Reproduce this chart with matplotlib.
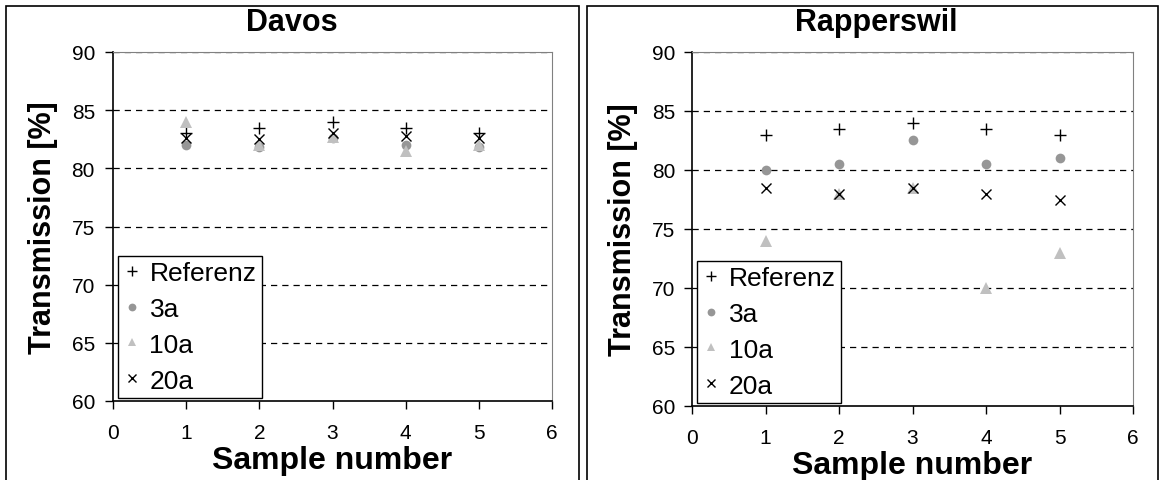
import matplotlib.pyplot as plt
from matplotlib.patches import Rectangle

plt.rcParams['font.family'] = ['Liberation Sans', 'DejaVu Sans']

samples = [1, 2, 3, 4, 5]
series = ['Referenz', '3a', '10a', '20a']

davos_ref = [83, 83.5, 84, 83.5, 83]
davos_3a = [82, 81.8, 82.6, 82, 81.8]
davos_10a = [84, 82, 82.7, 81.5, 82]
davos_20a = [82.6, 82.5, 83, 82.8, 82.6]

rap_ref = [83, 83.5, 84, 83.5, 83]
rap_3a = [80, 80.5, 82.5, 80.5, 81]
rap_10a = [74, 78, 78.5, 70, 73]
rap_20a = [78.5, 78, 78.5, 78, 77.5]

styles = [
    dict(marker='+', color='black', ms=9, mew=1.0),
    dict(marker='o', color='#969696', ms=7, mew=0),
    dict(marker='^', color='#c0c0c0', ms=8, mew=0),
    dict(marker='x', color='black', ms=7, mew=1.0),
]

W, H = 1160, 481
fig = plt.figure(figsize=(W / 100, H / 100), dpi=100)

# panel frames (Excel chart areas)
fig.patches.append(Rectangle((6 / W, -0.05), (579 - 6) / W, 1.05 - 7 / H,
                             transform=fig.transFigure, fill=False,
                             edgecolor='black', lw=1.2))
fig.patches.append(Rectangle((587 / W, -0.05), (1158 - 587) / W, 1.05 - 7 / H,
                             transform=fig.transFigure, fill=False,
                             edgecolor='black', lw=1.2))


def panel(rect, title, title_x, data, ypad):
    ax = fig.add_axes(rect)
    for vals, lab, st in zip(data, series, styles):
        ax.plot(samples, vals, linestyle='none', label=lab, **st)
    ax.set_xlim(0, 6)
    ax.set_ylim(60, 90)
    ax.set_xticks(range(0, 7))
    ax.set_yticks(range(60, 91, 5))
    ax.tick_params(axis='both', direction='out', length=6, width=1, labelsize=15)
    ax.tick_params(axis='x', pad=10)
    ax.tick_params(axis='y', pad=ypad)
    for y in range(65, 91, 5):
        ax.axhline(y, color='black', lw=0.9, ls=(0, (5, 4)), zorder=0.5)
    ax.spines['top'].set_color('#808080')
    ax.spines['right'].set_color('#808080')
    ax.spines['left'].set_linewidth(1.2)
    ax.spines['bottom'].set_linewidth(1.2)
    ax.set_xlabel('Sample number', fontsize=23, fontweight='bold', labelpad=2)
    ax.set_ylabel('Transmission [%]', fontsize=22, fontweight='bold', labelpad=10)
    fig.text(title_x / W, 1 - 23 / H, title, fontsize=22, fontweight='bold',
             ha='center', va='center')
    leg = ax.legend(loc='lower left', bbox_to_anchor=(0.011, 0.009),
                    borderaxespad=0, fontsize=19, frameon=True, fancybox=False,
                    edgecolor='black', framealpha=1, numpoints=1,
                    markerscale=0.8, handlelength=0.7, handletextpad=0.3,
                    borderpad=0.2, labelspacing=0.45)
    leg.get_frame().set_linewidth(1.0)
    return ax


panel([113 / W, 1 - 402 / H, 439 / W, 349 / H], 'Davos', 292,
      [davos_ref, davos_3a, davos_10a, davos_20a], 7)
panel([692 / W, 1 - 407 / H, 441 / W, 354 / H], 'Rapperswil', 876,
      [rap_ref, rap_3a, rap_10a, rap_20a], 6)

fig.savefig('out.png', dpi=100)
